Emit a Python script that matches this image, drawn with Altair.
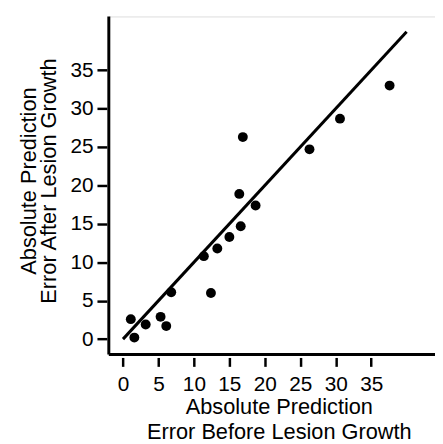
import altair as alt
import pandas as pd

before = [1.1, 1.6, 3.2, 5.3, 6.1, 6.8, 11.4, 12.4, 13.3, 15.0, 16.6, 16.4, 16.9, 18.7, 26.3, 30.6, 37.6]
after = [2.6, 0.2, 1.9, 2.9, 1.7, 6.1, 10.8, 6.0, 11.8, 13.3, 14.7, 18.9, 26.3, 17.4, 24.7, 28.7, 33.0]
line_x = [0, 40]
line_y = [0, 40]
ticks = [0, 5, 10, 15, 20, 25, 30, 35]
x_domain = [-2, 44]
y_domain = [-2, 42]

pts = pd.DataFrame({"x": before, "y": after})
ln = pd.DataFrame({"x": line_x, "y": line_y})
spine_df = pd.DataFrame({"x": [x_domain[0]], "x2": [x_domain[1]], "y": [y_domain[0]], "y2": [y_domain[1]]})

FONT = "Liberation Sans"
xs = alt.Scale(domain=x_domain, nice=False, zero=False)
ys = alt.Scale(domain=y_domain, nice=False, zero=False)

xaxis = alt.Axis(values=ticks, domain=False, grid=False, offset=3, tickSize=9, tickWidth=2.5,
                 tickColor="black", labelColor="black", labelFontSize=21, labelFont=FONT,
                 labelPadding=7, title=["Absolute Prediction", "Error Before Lesion Growth"],
                 titleFont=FONT, titleFontSize=22, titleFontWeight="normal", titleColor="black",
                 titlePadding=3, titleLineHeight=25, titleX=172)
yaxis = alt.Axis(values=ticks, domain=False, grid=False, offset=2, tickSize=10, tickWidth=2.5,
                 tickColor="black", labelColor="black", labelFontSize=21, labelFont=FONT,
                 labelPadding=4, title=["Absolute Prediction", "Error After Lesion Growth"],
                 titleFont=FONT, titleFontSize=22, titleFontWeight="normal", titleColor="black",
                 titlePadding=10, titleLineHeight=20, titleY=166)

points = alt.Chart(pts).mark_circle(size=100, color="black", opacity=1).encode(
    x=alt.X("x:Q", scale=xs, axis=xaxis),
    y=alt.Y("y:Q", scale=ys, axis=yaxis),
)
line = alt.Chart(ln).mark_line(color="black", strokeWidth=3).encode(
    x=alt.X("x:Q", scale=xs), y=alt.Y("y:Q", scale=ys)
)
left_spine = alt.Chart(spine_df).mark_rule(color="black", strokeWidth=3).encode(
    x=alt.X("x:Q", scale=xs), y=alt.Y("y:Q", scale=ys), y2="y2:Q"
)
bottom_spine = alt.Chart(spine_df).mark_rule(color="black", strokeWidth=3).encode(
    x=alt.X("x:Q", scale=xs), x2="x2:Q", y=alt.Y("y:Q", scale=ys)
)

chart = alt.layer(left_spine, bottom_spine, line, points).properties(
    width=330, height=342,
    autosize=alt.AutoSizeParams(type="none"),
    padding={"left": 102, "top": 6, "right": 0, "bottom": 88},
).configure_view(stroke=None).configure(background="white")

chart.save("out.html", embed_options={"renderer": "svg", "actions": False})
